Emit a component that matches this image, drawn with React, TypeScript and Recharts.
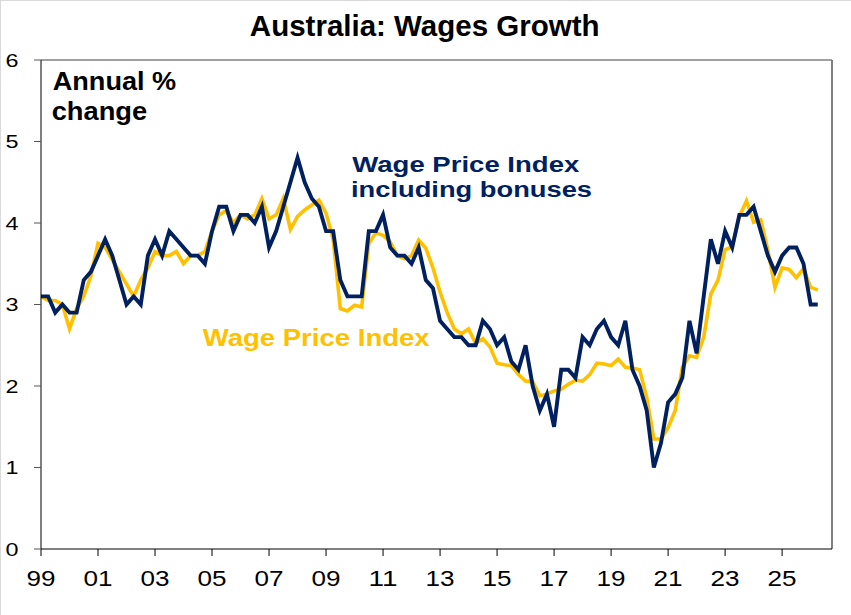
import React from 'react';
import { LineChart, Line, XAxis, YAxis, ReferenceLine } from 'recharts';

const FONT = '"Liberation Sans", Arial, Helvetica, sans-serif';

// quarter index of each x-axis tick and its label
const quarterTicks = [0, 8, 16, 24, 32, 40, 48, 56, 64, 72, 80, 88, 96, 104];
const yearLabels = ['99', '01', '03', '05', '07', '09', '11', '13', '15', '17', '19', '21', '23', '25'];
const yTicks = [0, 1, 2, 3, 4, 5, 6];

// Wage Price Index including bonuses, annual % change (quarterly)
const wpiInclBonuses = [
  3.1, 3.1, 2.9, 3.0, 2.9, 2.9, 3.3, 3.4, 3.6, 3.8,
  3.6, 3.3, 3.0, 3.1, 3.0, 3.6, 3.8, 3.6, 3.9, 3.8,
  3.7, 3.6, 3.6, 3.5, 3.9, 4.2, 4.2, 3.9, 4.1, 4.1,
  4.0, 4.2, 3.7, 3.9, 4.2, 4.5, 4.8, 4.5, 4.3, 4.2,
  3.9, 3.9, 3.3, 3.1, 3.1, 3.1, 3.9, 3.9, 4.1, 3.7,
  3.6, 3.6, 3.5, 3.7, 3.3, 3.2, 2.8, 2.7, 2.6, 2.6,
  2.5, 2.5, 2.8, 2.7, 2.5, 2.6, 2.3, 2.2, 2.5, 2.0,
  1.7, 1.9, 1.5, 2.2, 2.2, 2.1, 2.6, 2.5, 2.7, 2.8,
  2.6, 2.5, 2.8, 2.2, 2.0, 1.7, 1.0, 1.3, 1.8, 1.9,
  2.1, 2.8, 2.4, 3.1, 3.8, 3.5, 3.9, 3.7, 4.1, 4.1,
  4.2, 3.9, 3.6, 3.4, 3.6, 3.7, 3.7, 3.5, 3.0, 3.0,
];

// Wage Price Index, annual % change (quarterly)
const wagePriceIndex = [
  3.1, 3.05, 3.05, 3.0, 2.7, 2.95, 3.1, 3.35, 3.75, 3.7,
  3.55, 3.4, 3.25, 3.1, 3.3, 3.45, 3.65, 3.6, 3.6, 3.65,
  3.5, 3.6, 3.6, 3.65, 3.9, 4.1, 4.15, 4.0, 4.1, 4.05,
  4.1, 4.3, 4.05, 4.1, 4.3, 3.92, 4.08, 4.16, 4.22, 4.28,
  4.12, 3.8, 2.95, 2.92, 2.99, 2.97, 3.75, 3.88, 3.85, 3.77,
  3.6, 3.56, 3.6, 3.79, 3.69, 3.45, 3.15, 2.9, 2.7, 2.64,
  2.7, 2.52, 2.58, 2.48, 2.28, 2.26, 2.25, 2.14, 2.06, 2.05,
  1.88, 1.9, 1.94, 1.96, 2.02, 2.07, 2.06, 2.14, 2.28, 2.27,
  2.25, 2.33, 2.23, 2.22, 2.2, 1.86, 1.35, 1.35, 1.49, 1.7,
  2.23, 2.37, 2.35, 2.6, 3.13, 3.3, 3.67, 3.71, 4.08, 4.27,
  4.01, 4.04, 3.67, 3.21, 3.45, 3.43, 3.33, 3.44, 3.21, 3.18,
];

const data = wagePriceIndex.map((v, i) => ({ q: i, wpi: v, bonus: wpiInclBonuses[i] }));

const XTick = (props: any) => {
  const { x, y, payload } = props;
  const idx = quarterTicks.indexOf(payload.value);
  return (
    <text
      x={x}
      y={y + 30}
      textAnchor="middle"
      fontFamily={FONT}
      fontSize={22.3}
      fill="#000"
      textLength={29}
      lengthAdjust="spacingAndGlyphs"
    >
      {yearLabels[idx]}
    </text>
  );
};

const YTick = (props: any) => {
  const { x, y, payload } = props;
  return (
    <text
      x={x - 15.5}
      y={y + 6.6}
      textAnchor="end"
      fontFamily={FONT}
      fontSize={18.5}
      fill="#000"
      textLength={13}
      lengthAdjust="spacingAndGlyphs"
    >
      {payload.value}
    </text>
  );
};

export default function App() {
  return (
    <div style={{ position: 'absolute', left: 0, top: 0, width: 851, height: 615, background: '#fff' }}>
      <LineChart
        width={851}
        height={615}
        data={data}
        margin={{ top: 60, right: 19, bottom: 26, left: 0 }}
      >
        <XAxis
          dataKey="q"
          type="number"
          domain={[0, 111]}
          ticks={quarterTicks}
          interval={0}
          tick={<XTick />}
          tickSize={7}
          tickMargin={0}
          height={40}
          axisLine={{ stroke: '#000', strokeWidth: 1 }}
          tickLine={{ stroke: '#000', strokeWidth: 1 }}
          allowDataOverflow
        />
        <YAxis
          type="number"
          domain={[0, 6]}
          ticks={yTicks}
          interval={0}
          tick={<YTick />}
          tickSize={7}
          tickMargin={0}
          width={41}
          axisLine={{ stroke: '#000', strokeWidth: 1 }}
          tickLine={{ stroke: '#555', strokeWidth: 1 }}
        />
        <ReferenceLine y={6} stroke="#808080" strokeWidth={1.5} />
        <ReferenceLine x={111} stroke="#808080" strokeWidth={2} />
        <Line
          type="linear"
          dataKey="wpi"
          stroke="#FFC000"
          strokeWidth={3.6}
          dot={false}
          activeDot={false}
          isAnimationActive={false}
        />
        <Line
          type="linear"
          dataKey="bonus"
          stroke="#002060"
          strokeWidth={3.9}
          dot={false}
          activeDot={false}
          isAnimationActive={false}
        />
      </LineChart>
      <svg
        width={851}
        height={615}
        style={{ position: 'absolute', left: 0, top: 0, pointerEvents: 'none' }}
      >
        <line x1={0.5} y1={0} x2={0.5} y2={615} stroke="#d9d9d9" strokeWidth={1} />
        <line x1={0} y1={0.5} x2={851} y2={0.5} stroke="#d9d9d9" strokeWidth={1} />
        <text x={424.7} y={36} textAnchor="middle" fontFamily={FONT} fontSize={29.5} fontWeight="bold" fill="#000">
          Australia: Wages Growth
        </text>
        <text fontFamily={FONT} fontSize={25.6} fontWeight="bold" fill="#000">
          <tspan x={52.7} y={90} textLength={123.5} lengthAdjust="spacingAndGlyphs">Annual %</tspan>
          <tspan x={51.7} y={119.5} textLength={95.5} lengthAdjust="spacingAndGlyphs">change</tspan>
        </text>
        <text x={352.3} y={171.6} fontFamily={FONT} fontSize={22.5} fontWeight="bold" fill="#002060" textLength={227} lengthAdjust="spacingAndGlyphs">
          Wage Price Index
        </text>
        <text x={351} y={196.8} fontFamily={FONT} fontSize={22.5} fontWeight="bold" fill="#002060" textLength={241} lengthAdjust="spacingAndGlyphs">
          including bonuses
        </text>
        <text x={202.7} y={346} fontFamily={FONT} fontSize={24.5} fontWeight="bold" fill="#FFC000" textLength={227} lengthAdjust="spacingAndGlyphs">
          Wage Price Index
        </text>
      </svg>
    </div>
  );
}
